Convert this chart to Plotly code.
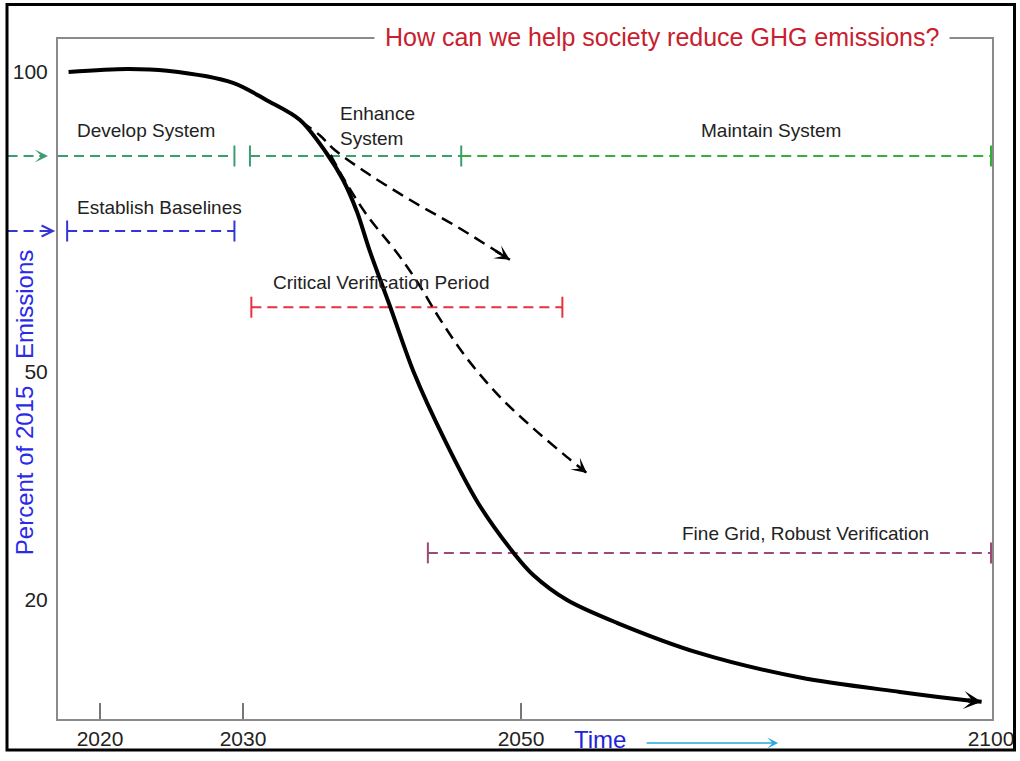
import numpy as np
import plotly.graph_objects as go

# ---- conceptual (non-linear) drawing scale of the original figure ----
X_YEAR_KNOTS = [2017.06, 2020, 2030, 2050, 2100]
X_POS_KNOTS = [0, 42, 185, 463, 933]
Y_PCT_KNOTS = [4.34, 20, 50, 100, 105.5]
Y_POS_KNOTS = [0, 119, 347, 647, 680]


def to_x(v):
    return np.interp(v, X_YEAR_KNOTS, X_POS_KNOTS)


def to_y(v):
    return np.interp(v, Y_PCT_KNOTS, Y_POS_KNOTS)


# ---- data ----
tick_years = [2020, 2030, 2050, 2100]
tick_pcts = [20, 50, 100]

main_years = [2017.8, 2021.9, 2024.7, 2029.3, 2031.7, 2034.1, 2036.0, 2037.2, 2038.2,
              2039.1, 2040.6, 2042.3, 2044.5, 2046.9, 2049.6, 2051.3, 2054.9, 2060.2,
              2069.0, 2079.7, 2090.3, 2097.4, 2099.0]
main_pct = [100, 100.5, 100.2, 98.2, 95.3, 92.0, 86.5, 82.0, 76.7,
            70.3, 60.8, 49.9, 41.1, 32.8, 25.9, 23.3, 20.0, 17.0,
            13.0, 9.8, 7.9, 6.8, 6.6]

upper_years = [2034.2, 2035.5, 2036.6, 2038.9, 2042.0, 2045.4, 2049.2]
upper_pct = [91.7, 89.5, 87.0, 83.2, 78.7, 74.2, 68.7]

lower_years = [2036.3, 2037.3, 2038.9, 2041.1, 2042.6, 2044.2, 2046.1, 2048.5,
               2051.3, 2054.9, 2057.0]
lower_pct = [86.2, 82.0, 76.2, 69.8, 64.8, 58.7, 52.3, 46.7, 42.6, 38.8, 36.7]

phase_names = ["Develop System", "Enhance<br>System", "Maintain System",
               "Establish Baselines", "Critical Verification Period",
               "Fine Grid, Robust Verification"]
phase_start = [2017.06, 2030.5, 2045.7, 2017.7, 2030.6, 2043.3]
phase_end = [2029.4, 2045.7, 2100, 2029.4, 2054.4, 2100]
phase_level = [86.0, 86.0, 86.0, 73.5, 60.8, 26.2]
phase_start_tick = [False, True, False, True, True, True]
label_year = [2018.25, 2036.8, 2068.9, 2018.25, 2032.0, 2066.9]
label_pct = [90.2, 91.0, 90.2, 77.5, 65.0, 28.7]

# ---- styles ----
FONT = "Liberation Sans, Arial, sans-serif"
phase_colors = ["#3b9e6e", "#3b9e6e", "#33b03a", "#3535d5", "#e8323c", "#9b4a78"]
W_PX, H_PX = 934, 680  # plot area size

fig = go.Figure()

# phase bars
for i in range(len(phase_names)):
    c = phase_colors[i]
    fig.add_trace(go.Scatter(
        x=to_x([phase_start[i], phase_end[i]]),
        y=to_y([phase_level[i], phase_level[i]]),
        mode="lines", line=dict(color=c, width=2, dash="10px,6px"),
        hoverinfo="skip", showlegend=False))
    tx = [phase_end[i]] + ([phase_start[i]] if phase_start_tick[i] else [])
    fig.add_trace(go.Scatter(
        x=to_x(tx), y=to_y([phase_level[i]] * len(tx)),
        mode="markers", cliponaxis=False,
        marker=dict(symbol="line-ns-open", size=15, color=c,
                    line=dict(color=c, width=2)),
        hoverinfo="skip", showlegend=False))
    fig.add_annotation(
        x=to_x(label_year[i]), y=to_y(label_pct[i]), xref="x", yref="y",
        text=phase_names[i], showarrow=False, xanchor="left", yanchor="middle",
        align="left", font=dict(family=FONT, size=19, color="#222222"))

# main curve
fig.add_trace(go.Scatter(
    x=to_x(main_years), y=to_y(main_pct), mode="lines",
    line=dict(color="black", width=4, shape="spline", smoothing=0.9),
    hoverinfo="skip", showlegend=False))
fig.add_annotation(
    x=to_x(main_years[-1]), y=to_y(main_pct[-1]), xref="x", yref="y",
    ax=to_x(main_years[-2]), ay=to_y(main_pct[-2]), axref="x", ayref="y",
    text="", showarrow=True, arrowhead=3, arrowwidth=4, arrowsize=0.75,
    arrowcolor="black", standoff=0)

# dashed alternative pathways
for yrs, pcts in [(upper_years, upper_pct), (lower_years, lower_pct)]:
    xs, ys = to_x(yrs), to_y(pcts)
    fig.add_trace(go.Scatter(
        x=xs, y=ys, mode="lines",
        line=dict(color="black", width=2.5, dash="12px,7px", shape="spline"),
        hoverinfo="skip", showlegend=False))
    fig.add_annotation(
        x=xs[-1], y=ys[-1], xref="x", yref="y",
        ax=xs[-1] - 0.3 * (xs[-1] - xs[-2]), ay=ys[-1] - 0.3 * (ys[-1] - ys[-2]),
        axref="x", ayref="y", text="", showarrow=True, arrowhead=3,
        arrowwidth=2.5, arrowsize=1.0, arrowcolor="black", standoff=0)

# margin arrows pointing into the axis (green: system, blue: baselines)
for lvl, c, x1, tip, head in [(phase_level[0], phase_colors[0], -0.016, -0.0107, 3),
                               (phase_level[3], phase_colors[3], -0.008, -0.003, 5)]:
    yp = to_y(lvl) / H_PX
    fig.add_shape(type="line", xref="paper", yref="paper", x0=-0.054, x1=x1,
                  y0=yp, y1=yp, line=dict(color=c, width=2, dash="10px,6px"))
    fig.add_annotation(x=tip, y=yp, xref="paper", yref="paper", ax=-10, ay=0,
                       text="", showarrow=True, arrowhead=head, arrowwidth=2,
                       arrowsize=1.1, arrowcolor=c, standoff=0)

# outer black border
fig.add_shape(type="rect", xref="paper", yref="paper",
              x0=-0.0546, x1=1.0241, y0=-0.0456, y1=1.0507,
              line=dict(color="black", width=3), layer="above")

# title on the top frame line
fig.add_annotation(
    x=0.6467, y=1.0029, xref="paper", yref="paper",
    text="How can we help society reduce GHG emissions?", showarrow=False,
    xanchor="center", yanchor="middle", bgcolor="white", borderpad=10,
    font=dict(family=FONT, size=25, color="#c8202e"))

# y title
fig.add_annotation(
    x=-0.036, y=0.465, xref="paper", yref="paper",
    text="Percent of 2015&nbsp;&nbsp;&nbsp;&nbsp;Emissions",
    textangle=-90, showarrow=False, xanchor="center", yanchor="middle",
    font=dict(family=FONT, size=24, color="#2a2ae8"))

# Time label and arrow
fig.add_annotation(
    x=0.580, y=-0.030, xref="paper", yref="paper", text="Time", showarrow=False,
    xanchor="center", yanchor="middle",
    font=dict(family=FONT, size=24, color="#2222dd"))
fig.add_annotation(
    x=0.771, y=-0.0353, xref="paper", yref="paper", ax=-133, ay=0, text="",
    showarrow=True, arrowhead=3, arrowwidth=1.5, arrowsize=1.2,
    arrowcolor="#2aa8e0", standoff=0)

fig.update_xaxes(
    range=[0, W_PX], tickvals=to_x(tick_years), ticktext=[str(y) for y in tick_years],
    ticks="inside", ticklen=16, tickwidth=1.5, tickcolor="#777777",
    showline=True, linecolor="#8a8a8a", linewidth=2, mirror=True,
    showgrid=False, zeroline=False, automargin=False,
    tickfont=dict(family=FONT, size=21, color="#222222"))
fig.update_yaxes(
    range=[0, H_PX], tickvals=to_y(tick_pcts), ticktext=[str(p) for p in tick_pcts],
    ticks="", showline=True, linecolor="#8a8a8a", linewidth=2, mirror=True,
    showgrid=False, zeroline=False, ticklabelstandoff=4, automargin=False,
    tickfont=dict(family=FONT, size=21, color="#222222"))

fig.update_layout(
    width=1020, height=761, autosize=False,
    margin=dict(l=58, r=28, t=39, b=42),
    paper_bgcolor="white", plot_bgcolor="white", showlegend=False)

# remove the browser's default 8px page margin so the figure fills the window
fig.write_html(
    "out.html",
    config={"displayModeBar": False, "staticPlot": True},
    post_script="document.body.style.margin='0';document.body.style.overflow='hidden';")
